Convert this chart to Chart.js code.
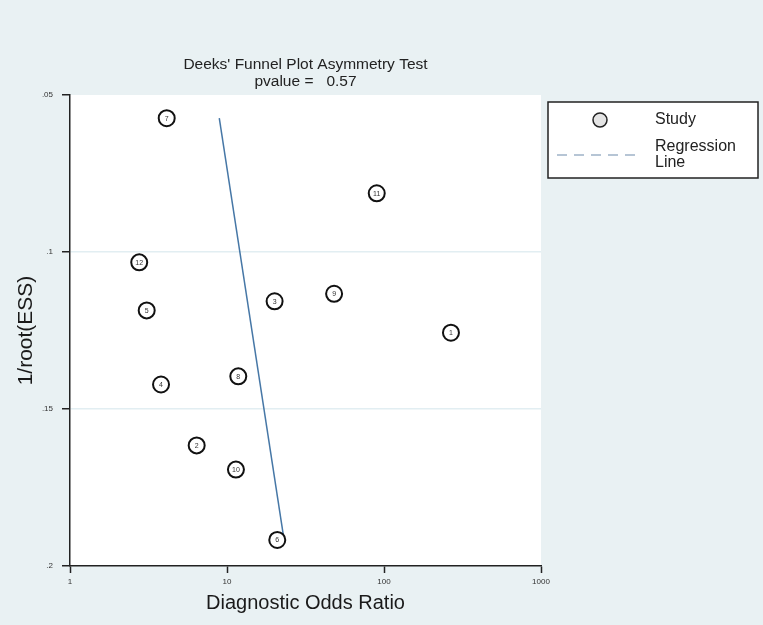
<!DOCTYPE html>
<html>
<head>
<meta charset="utf-8">
<script src="https://cdn.jsdelivr.net/npm/chart.js@4"></script>
<style>
  html, body { margin: 0; padding: 0; background: #e9f1f3; }
  #wrap { width: 763px; height: 625px; }
</style>
</head>
<body>
<div id="wrap"><canvas id="deeksChart" width="763" height="625"></canvas></div>
<script>
// Study data
const studyIds = ["1", "2", "3", "4", "5", "6", "7", "8", "9", "10", "11", "12"];
const diagOddsRatio = [267, 6.41, 20.1, 3.8, 3.08, 20.9, 4.13, 11.8, 48.1, 11.4, 89.9, 2.76];
const invRootEss = [0.1257, 0.1616, 0.1157, 0.1422, 0.1186, 0.1917, 0.0574, 0.1396, 0.1133, 0.1693, 0.0813, 0.1033];

// Regression line end points
const regX = [8.93, 22.9];
const regY = [0.0574, 0.1905];

const xTicks = [1, 10, 100, 1000];
const yTicks = [0.05, 0.1, 0.15, 0.2];

const titleLines = ["Deeks' Funnel Plot Asymmetry Test", "pvalue =   0.57"];
const legendLabels = ["Study", "Regression", "Line"];

const FONT = "'Liberation Sans', Arial, sans-serif";

// background, point numbers, title, legend box
const deeksPlugin = {
    id: "deeksExtras",
    beforeDraw(chart) {
        const { ctx, chartArea: a } = chart;
        ctx.save();
        ctx.fillStyle = "#e9f1f3";
        ctx.fillRect(0, 0, chart.width, chart.height);
        ctx.fillStyle = "#ffffff";
        ctx.fillRect(a.left, a.top, a.right - a.left, a.bottom - a.top);
        ctx.restore();
    },
    afterDatasetsDraw(chart) {
        const { ctx } = chart;
        const meta = chart.getDatasetMeta(0);
        ctx.save();
        ctx.font = "7px " + FONT;
        ctx.fillStyle = "#333";
        ctx.textAlign = "center";
        ctx.textBaseline = "middle";
        meta.data.forEach((pt, i) => {
            ctx.fillText(studyIds[i], pt.x, pt.y + 0.5);
        });
        ctx.restore();
    },
    afterDraw(chart) {
        const { ctx, chartArea: a } = chart;
        const cx = (a.left + a.right) / 2;
        ctx.save();
        // title
        ctx.font = "15.5px " + FONT;
        ctx.fillStyle = "#222";
        ctx.textAlign = "center";
        ctx.textBaseline = "middle";
        ctx.fillText(titleLines[0], cx, 65);
        ctx.fillText(titleLines[1], cx, 82);

        // legend
        ctx.fillStyle = "#fff";
        ctx.fillRect(548, 102, 210, 76);
        ctx.strokeStyle = "#222";
        ctx.lineWidth = 1.5;
        ctx.strokeRect(548, 102, 210, 76);

        ctx.beginPath();
        ctx.arc(600, 120, 7, 0, Math.PI * 2);
        ctx.fillStyle = "#e4e4e4";
        ctx.fill();
        ctx.stroke();

        ctx.beginPath();
        ctx.setLineDash([10, 7]);
        ctx.strokeStyle = "#9fb3c8";
        ctx.moveTo(557, 155);
        ctx.lineTo(641, 155);
        ctx.stroke();
        ctx.setLineDash([]);

        ctx.font = "16px " + FONT;
        ctx.fillStyle = "#222";
        ctx.textAlign = "left";
        ctx.fillText(legendLabels[0], 655, 120);
        ctx.fillText(legendLabels[1], 655, 147);
        ctx.fillText(legendLabels[2], 655, 163);
        ctx.restore();
    }
};

const ctx = document.getElementById("deeksChart").getContext("2d");
new Chart(ctx, {
    type: "scatter",
    data: {
        datasets: [
            {
                label: "Study",
                data: diagOddsRatio.map((x, i) => ({ x, y: invRootEss[i] })),
                pointRadius: 8,
                pointHoverRadius: 8,
                pointBorderWidth: 2,
                pointBorderColor: "#111",
                pointBackgroundColor: "#fff"
            },
            {
                label: "Regression Line",
                data: regX.map((x, i) => ({ x, y: regY[i] })),
                showLine: true,
                borderColor: "#4677a6",
                borderWidth: 1.5,
                pointRadius: 0,
                order: 1
            }
        ]
    },
    options: {
        responsive: false,
        animation: false,
        events: [],
        layout: { padding: { top: 95, right: 222, left: 0, bottom: 0 } },
        plugins: {
            legend: { display: false },
            title: { display: false },
            tooltip: { enabled: false }
        },
        scales: {
            x: {
                type: "logarithmic",
                min: 1,
                max: 1000,
                afterBuildTicks: (s) => { s.ticks = xTicks.map(v => ({ value: v })); },
                afterFit: (s) => { s.height = 59; },
                border: { display: true, color: "#222", width: 1.5 },
                grid: { drawOnChartArea: false, tickLength: 7, tickColor: "#222", tickWidth: 1.5 },
                ticks: {
                    autoSkip: false,
                    maxRotation: 0,
                    padding: 4,
                    color: "#333",
                    font: { family: FONT, size: 8 },
                    callback: (v) => String(v)
                },
                title: {
                    display: true,
                    text: "Diagnostic Odds Ratio",
                    color: "#1a1a1a",
                    font: { family: FONT, size: 20 },
                    padding: { top: 0, bottom: 10 }
                }
            },
            y: {
                reverse: true,
                min: 0.05,
                max: 0.2,
                afterBuildTicks: (s) => { s.ticks = yTicks.map(v => ({ value: v })); },
                afterFit: (s) => { s.width = 70; },
                border: { display: true, color: "#222", width: 1.5 },
                grid: {
                    color: (c) => (c.tick && (c.tick.value === 0.1 || c.tick.value === 0.15)) ? "#e2eef2" : "rgba(0,0,0,0)",
                    lineWidth: 1.5,
                    tickLength: 8,
                    tickColor: "#222",
                    tickWidth: 1.5
                },
                ticks: {
                    padding: 9,
                    color: "#333",
                    font: { family: FONT, size: 8 },
                    callback: (v) => String(v).replace(/^0/, "")
                },
                title: {
                    display: true,
                    text: "1/root(ESS)",
                    color: "#1a1a1a",
                    font: { family: FONT, size: 21 },
                    padding: { top: 14, bottom: 0 }
                }
            }
        }
    },
    plugins: [deeksPlugin]
});
</script>
</body>
</html>
